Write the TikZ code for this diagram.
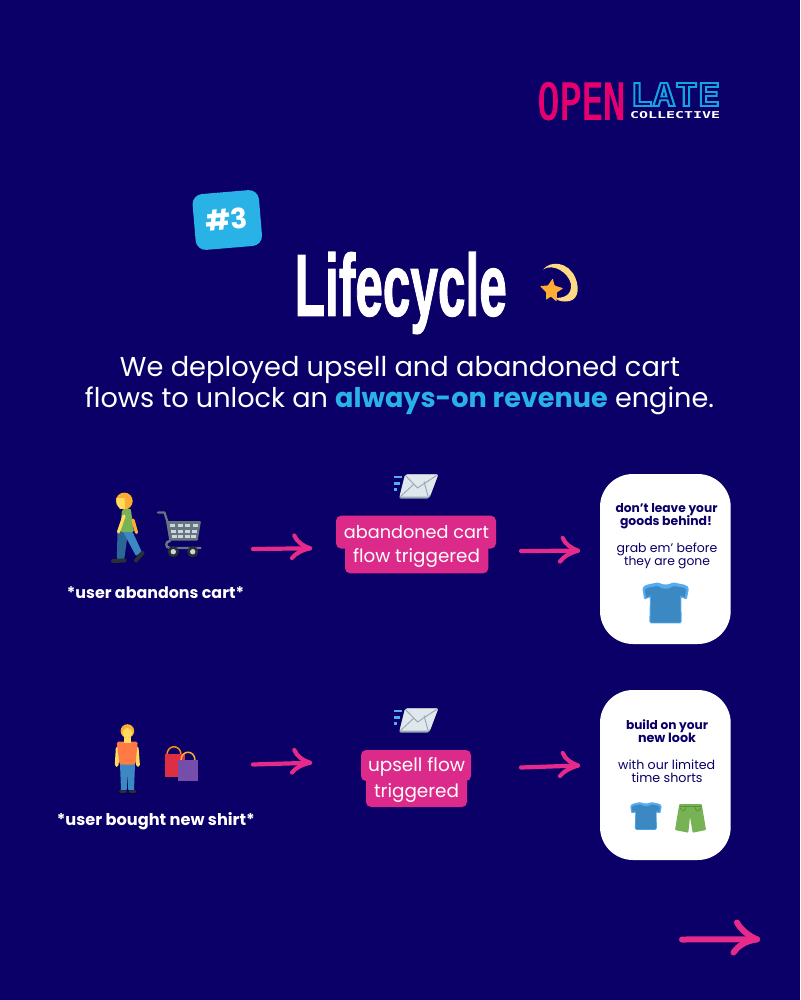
\documentclass[tikz,border=0pt]{standalone}
\usepackage{fontspec}
\setmainfont{Poppins}
\newfontfamily\titlefont{Liberation Sans}
\newfontfamily\logofont{DejaVu Sans Mono}
\definecolor{navy}{HTML}{0A0068}
\definecolor{pinkarrow}{HTML}{E62A8C}
\definecolor{pinkbox}{HTML}{DC2A8A}
\definecolor{skyb}{HTML}{29B2E6}
\definecolor{logopink}{HTML}{E6006F}
\definecolor{logoblue}{HTML}{14A5E0}
\definecolor{tshirt}{HTML}{3B88C3}
\definecolor{tshirtl}{HTML}{55ACEE}
\definecolor{skin}{HTML}{FFDC5D}
\definecolor{hair}{HTML}{FFAC33}
\definecolor{greeny}{HTML}{77B255}
\definecolor{greend}{HTML}{5C913B}
\definecolor{darkb}{HTML}{2A6797}
\definecolor{shoe}{HTML}{292F33}
\definecolor{cartg}{HTML}{66757F}
\definecolor{cartl}{HTML}{CCD6DD}
\definecolor{envl}{HTML}{E1E8ED}
\definecolor{envd}{HTML}{99AAB5}
\definecolor{redbag}{HTML}{DD2E44}
\definecolor{purpbag}{HTML}{744EAA}
\definecolor{orangeh}{HTML}{F4900C}
\definecolor{orangeshirt}{HTML}{FF7A45}
\definecolor{startail}{HTML}{FFD983}
\newcommand{\fitw}[2]{\resizebox{#1pt}{!}{#2}}
\newcommand{\shirtart}[3]{%
 \begin{scope}[shift={(#1,#2)},scale=#3]
  \fill[tshirtl,rounded corners=1.5pt] (-7.4,-20.7) .. controls (-3,-18) and (3,-18) .. (7,-20.7)--(20,-18)--(23.3,-15.3)--(21,-3)--(15.5,-6.3)--(16,20.3)--(-16.4,20.3)--(-15.7,-6.3)--(-21.4,-3)--(-23.4,-15.3)--(-20,-18)--cycle;
  \fill[tshirt,rounded corners=1pt] (-8,-17) .. controls (-3,-13.5) and (3,-13.5) .. (8,-17)--(19,-15)--(20.5,-13)--(19,-5)--(14.5,-8)--(15,19.5)--(-15.4,19.5)--(-14.7,-8)--(-19.5,-5)--(-21,-13)--(-19,-15)--cycle;
 \end{scope}}
\newcommand{\envelopeart}[2]{%
 \begin{scope}[shift={(#1,#2)}]
  \fill[tshirtl] (394,475.5) rectangle (402.3,477.7);
  \fill[tshirtl] (394,482.3) rectangle (400,484.5);
  \fill[tshirtl] (394,488.3) rectangle (397.3,490.5);
  \fill[envd,rounded corners=2pt] (405,474.3)--(438.3,474.3)--(429.3,498.6)--(399,498.6)--cycle;
  \fill[envl,rounded corners=2pt] (405.3,474.3)--(438.3,474.3)--(429.8,496.6)--(399.6,496.6)--cycle;
  \draw[envd,line width=1pt] (405.5,475.5)--(417.5,488)--(436.5,475.5);
  \draw[envd,line width=1pt] (401,496)--(413.5,484.5);
  \draw[envd,line width=1pt] (428,496)--(424,481.5);
 \end{scope}}
\tikzset{
 lbl/.style={inner sep=0pt,outer sep=0pt,anchor=base,text=white},
 cardtxt/.style={inner sep=0pt,outer sep=0pt,anchor=base,text=navy},
 arrowline/.style={draw=pinkarrow,line width=4.2pt,line cap=round,line join=round},
 bigarrow/.style={draw=pinkarrow,line width=6pt,line cap=round,line join=round},
 card/.style={fill=white,rounded corners=33pt},
 pinkb/.style={fill=pinkbox,rounded corners=5pt}
}
\begin{document}
\begin{tikzpicture}[x=1pt,y=-1pt]
\fill[navy] (0,0) rectangle (800,1000);
\useasboundingbox (0,0) rectangle (800,1000);

% logo
\node[inner sep=0pt,anchor=base west,text=logopink] (logoopen) at (537.3,119.3) {\special{pdf:code 2 Tr 0.25 w}\resizebox{87.6pt}{37pt}{\logofont OPEN}\special{pdf:code 0 Tr}};
\node[inner sep=0pt,anchor=base west,text=logoblue] (logolate) at (630,106) {\special{pdf:code 1 Tr 0.55 w}\resizebox{90pt}{23pt}{\logofont\bfseries LATE}\special{pdf:code 0 Tr}};
\node[inner sep=0pt,anchor=base west,text=white] (logocoll) at (630,119) {\resizebox{90pt}{7pt}{\logofont\bfseries COLLECTIVE}};

% badge
\fill[skyb,rounded corners=10pt,rotate around={4.8:(227.3,220)}] (194,192) rectangle (260.6,248);
\node[inner sep=0pt,text=white,rotate=5] (badge) at (226.7,219.5) {\fontsize{28}{30}\selectfont\bfseries \#3};

% title
\node[inner sep=0pt,anchor=base,text=white] (title) at (400.8,315.7) {\special{pdf:code 2 Tr 0.16 w}\resizebox{212pt}{63.5pt}{\titlefont\bfseries Lifecycle}\special{pdf:code 0 Tr}};

% star
\fill[startail] (543,269.5) .. controls (551,260) and (568,262) .. (575,277) .. controls (581,291) and (577,302) .. (565,301.5) .. controls (560,301.5) and (557,300) .. (555,298) .. controls (563,298) and (572,296) .. (571,284) .. controls (568,272) and (553,263) .. (543,269.5) -- cycle;
\fill[hair,rounded corners=0.8pt] (552.7,278.3)--(554.5,285.5)--(563.3,288.3)--(556.8,292.5)--(556.7,301.7)--(550.8,296.5)--(546,300)--(546.3,292.5)--(540,286)--(548,285.5)--cycle;

% intro
\node[lbl] (intro1) at (400,376) {\fitw{560}{We deployed upsell and abandoned cart}};
\node[lbl] (intro2) at (399.5,407) {\fitw{629}{flows to unlock an \textcolor{skyb}{\bfseries always-on revenue} engine.}};

% walking person
\fill[darkb,rounded corners=1pt] (117.5,532)--(128,532)--(124.3,559)--(116.8,559)--cycle;
\fill[tshirt,rounded corners=1pt] (123,531.7)--(132.5,531.7)--(141.7,551.7)--(136,556)--cycle;
\draw[line width=4pt,shoe,line cap=round] (113,561)--(124.5,560.5);
\draw[line width=4pt,shoe,line cap=round] (136,560.5)--(142.5,553);
\fill[greeny,rounded corners=1.5pt] (122,509.5)--(130.7,508.3)--(134,532)--(120,532)--cycle;
\draw[line width=3.2pt,skin,line cap=round] (124,516)--(118.5,532);
\draw[line width=3.2pt,hair,line cap=round] (133,520)--(136.5,532.5);
\fill[hair] (124.3,501) circle (8.4);
\fill[skin] (116.2,498) -- (124.5,498) -- (125,508.5) -- (120,509) -- (117.3,504) -- cycle;
% cart
\draw[line width=2.2pt,cartg,line cap=round,line join=round] (158,512.5)--(164.5,512.5)--(167.5,522);
\fill[cartg,rounded corners=1pt] (166,521)--(201,521)--(197.7,540.7)--(169.3,540.7)--cycle;
\foreach \yy/\xa/\xb in {525.5/170/197,531.5/171/196,536.5/172/195}{
  \foreach \t in {0,1,2,3}{
    \fill[cartl] ({\xa+\t*(\xb-\xa)/3.6},{\yy-1.2}) rectangle ++(5,2.4);
  }
}
\draw[line width=2.4pt,cartg,line cap=round] (170,541) .. controls (165,541) and (165,548) .. (170,548) -- (200.5,548);
\fill[shoe] (173.3,551.7) circle (5.6);
\fill[cartl] (173.3,551.7) circle (2.7);
\fill[shoe] (192.7,551.7) circle (5.6);
\fill[cartl] (192.7,551.7) circle (2.7);
\node[lbl] (cap1) at (155.5,598) {\fitw{177}{\bfseries *user abandons cart*}};

% row 1
\coordinate (a1s) at (253,549);
\coordinate (a1t) at (310,548.3);
\coordinate (a1u) at (294.3,535.5);
\coordinate (a1d) at (292,558);
\draw[arrowline] (a1s)--(a1t);
\draw[arrowline] (a1u) .. controls (297,542) and (303,546) .. (a1t) .. controls (302,550) and (296,553) .. (a1d);

\envelopeart{0}{0}
\fill[pinkb] (336,515.7) rectangle (496,548.5);
\fill[pinkb] (345,540) rectangle (488.3,573.3);
\node[lbl] (flow1a) at (416.5,538) {\fitw{145}{abandoned cart}};
\node[lbl] (flow1b) at (416.5,562.5) {\fitw{127}{flow triggered}};

\coordinate (a2s) at (521,551);
\coordinate (a2t) at (578,550.7);
\coordinate (a2u) at (562.7,538);
\coordinate (a2d) at (560,561.5);
\draw[arrowline] (a2s)--(a2t);
\draw[arrowline] (a2u) .. controls (565,544) and (571,548) .. (a2t) .. controls (570,553) and (564,556) .. (a2d);

\fill[card] (600,474) rectangle (730.7,644);
\node[cardtxt] (c1a) at (666.5,512.3) {\fitw{102}{\bfseries don’t leave your}};
\node[cardtxt] (c1b) at (666,525.7) {\fitw{92}{\bfseries goods behind!}};
\node[cardtxt] (c1c) at (667,552.3) {\fitw{100.7}{grab em’ before}};
\node[cardtxt] (c1d) at (667,565) {\fitw{86}{they are gone}};
\shirtart{665.7}{603}{1}

% standing person
\fill[tshirt] (120,764)--(135,764)--(134,790)--(128.3,790)--(127.4,773.3)--(126.7,790)--(121,790)--cycle;
\draw[line width=3pt,shoe,line cap=round] (120.5,791)--(125.5,791);
\draw[line width=3pt,shoe,line cap=round] (130,791)--(135,791);
\draw[line width=3.8pt,skin,line cap=round] (117.7,748)--(116.7,765);
\draw[line width=3.8pt,skin,line cap=round] (136.7,748)--(138,765);
\fill[orangeshirt,rounded corners=1.5pt] (116.7,741.7)--(137.7,741.7)--(135.5,764.5)--(119.5,764.5)--cycle;
\fill[skin] (124,736) rectangle (131,742.5);
\fill[hair] (127.4,731) circle (6.8);
\fill[skin] (127.4,733) circle (5);
% bags
\draw[orangeh,line width=1.5pt] (167,755) .. controls (167,744) and (181,744) .. (181,755);
\fill[redbag] (165,754.3) rectangle (185,776.7);
\draw[hair,line width=1.5pt] (181,760.5) .. controls (181,749.5) and (195,749.5) .. (195,760.5);
\fill[purpbag] (178.3,760) rectangle (198,781.3);
\node[lbl] (cap2) at (155.8,825) {\fitw{198}{\bfseries *user bought new shirt*}};

% row 2
\coordinate (a3s) at (253,764.5);
\coordinate (a3t) at (310,762.8);
\coordinate (a3u) at (294.3,750);
\coordinate (a3d) at (292,772.5);
\draw[arrowline] (a3s)--(a3t);
\draw[arrowline] (a3u) .. controls (297,756.5) and (303,760.5) .. (a3t) .. controls (302,764.5) and (296,767.5) .. (a3d);

\envelopeart{0}{234}
\fill[pinkb] (361,750) rectangle (471,781);
\fill[pinkb] (366,772) rectangle (467,807);
\node[lbl] (flow2a) at (416.5,771.5) {\fitw{97}{upsell flow}};
\node[lbl] (flow2b) at (416.5,797) {\fitw{85}{triggered}};

\coordinate (a4s) at (521,767.5);
\coordinate (a4t) at (578,765.5);
\coordinate (a4u) at (562.7,753);
\coordinate (a4d) at (560,776);
\draw[arrowline] (a4s)--(a4t);
\draw[arrowline] (a4u) .. controls (565,759) and (571,763) .. (a4t) .. controls (570,768) and (564,771) .. (a4d);

\fill[card] (600,690) rectangle (730.7,860);
\node[cardtxt] (c2a) at (667,729.3) {\fitw{82}{\bfseries build on your}};
\node[cardtxt] (c2b) at (667,742.7) {\fitw{58}{\bfseries new look}};
\node[cardtxt] (c2c) at (666.7,769.3) {\fitw{97}{with our limited}};
\node[cardtxt] (c2d) at (667,782.7) {\fitw{71}{time shorts}};
\shirtart{646}{816}{0.68}
% shorts
\fill[greeny,rounded corners=0.8pt] (679.3,804)--(701.7,804)--(706,830)--(692.7,832.7)--(690,816.7)--(688.3,832.7)--(675,830)--cycle;
\draw[greend,line width=1pt] (679.5,806.5)--(701.5,806.5);
\draw[greend,line width=0.8pt] (680,808) .. controls (683,812) and (685,812) .. (686,807);
\draw[greend,line width=0.8pt] (701,808) .. controls (698,812) and (696,812) .. (695,807);

% next arrow
\coordinate (a5s) at (682,939.5);
\coordinate (a5t) at (757,939.3);
\coordinate (a5u) at (737,922.5);
\coordinate (a5d) at (733.5,952.5);
\draw[bigarrow] (a5s)--(a5t);
\draw[bigarrow] (a5u) .. controls (741,930) and (749,936) .. (a5t) .. controls (746,941) and (739,945) .. (a5d);
\end{tikzpicture}
\end{document}
